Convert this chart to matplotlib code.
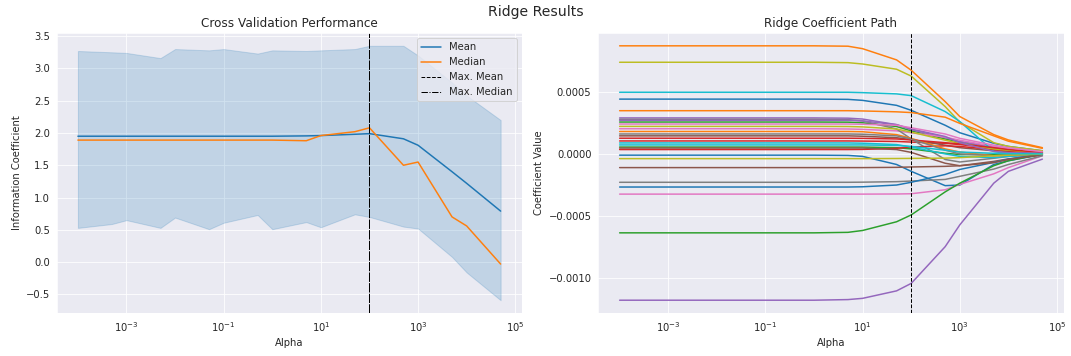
import numpy as np
import matplotlib
matplotlib.use("Agg")
import matplotlib.pyplot as plt
from matplotlib.ticker import MultipleLocator
import seaborn as sns

sns.set_style("darkgrid")

# ---- data ----
alphas = [1e-4, 5e-4, 1e-3, 5e-3, 1e-2, 5e-2, 1e-1, 5e-1, 1, 5, 10, 50, 100, 500, 1000, 5000, 1e4, 5e4]

ic_mean = [1.95, 1.95, 1.95, 1.95, 1.95, 1.95, 1.95, 1.95, 1.95, 1.955, 1.96, 1.98, 1.99, 1.91, 1.81, 1.40, 1.22, 0.79]
ic_median = [1.89, 1.89, 1.89, 1.89, 1.89, 1.89, 1.89, 1.89, 1.89, 1.88, 1.96, 2.02, 2.08, 1.50, 1.55, 0.70, 0.56, -0.03]
band_upper = [3.27, 3.25, 3.24, 3.16, 3.30, 3.28, 3.30, 3.23, 3.28, 3.27, 3.28, 3.30, 3.35, 3.35, 3.20, 2.78, 2.58, 2.20]
band_lower = [0.53, 0.59, 0.65, 0.53, 0.69, 0.51, 0.61, 0.73, 0.51, 0.62, 0.54, 0.74, 0.70, 0.55, 0.52, 0.08, -0.16, -0.59]

best_mean_alpha = 100
best_median_alpha = 100

# Coefficient paths (units of 1e-4): value on the flat part (alpha <= 1),
# then values at alpha = 5, 10, 50, 100, 500, 1000, 5000, 1e4, 5e4
coef_unit = 1e-4
coef_flat = [4.40, 8.68, 2.56, 1.04, 2.89, 1.45, 2.02, 2.78, 7.36, 4.95,
             -0.10, 3.47, 0.55, 0.35, -11.75, -1.10, -3.23, -2.28, 2.21, 0.88,
             -2.66, 1.80, -6.34, 1.26, 2.70, 0.47, 2.40, 1.60, -0.38, 0.72]
coef_tail = [
    [4.38, 4.30, 3.90, 3.50, 2.30, 1.70, 0.85, 0.60, 0.25],
    [8.65, 8.45, 7.55, 6.72, 4.20, 3.00, 1.55, 1.12, 0.50],
    [2.55, 2.50, 2.20, 1.85, 1.20, 0.95, 0.55, 0.40, 0.15],
    [1.04, 1.03, 1.00, 0.95, 0.85, 0.75, 0.45, 0.30, 0.10],
    [2.87, 2.80, 2.35, 1.95, 1.30, 1.00, 0.50, 0.35, 0.15],
    [1.45, 1.42, 1.30, 1.15, 0.70, 0.50, 0.25, 0.20, 0.05],
    [2.00, 1.97, 1.85, 1.70, 1.35, 1.10, 0.60, 0.42, 0.15],
    [2.75, 2.65, 2.00, 1.20, -0.45, -0.65, -0.35, -0.20, -0.05],
    [7.33, 7.22, 6.80, 6.25, 3.80, 2.55, 0.90, 0.60, 0.25],
    [4.95, 4.92, 4.82, 4.68, 3.40, 2.60, 0.20, 0.00, 0.00],
    [-0.12, -0.20, -0.85, -1.40, -2.55, -2.50, -0.85, -0.55, -0.05],
    [3.47, 3.45, 3.38, 3.32, 2.95, 2.45, 1.45, 1.02, 0.45],
    [0.55, 0.55, 0.50, 0.40, 0.05, -0.05, -0.05, -0.03, 0.00],
    [0.35, 0.36, 0.45, 0.55, 0.65, 0.60, 0.35, 0.25, 0.08],
    [-11.70, -11.60, -11.00, -10.40, -7.45, -5.70, -2.35, -1.40, -0.42],
    [-1.10, -1.10, -1.08, -1.05, -1.00, -0.95, -0.60, -0.40, -0.10],
    [-3.23, -3.23, -3.22, -3.20, -2.88, -2.45, -1.60, -1.10, -0.15],
    [-2.28, -2.27, -2.23, -2.18, -2.05, -1.80, -1.22, -0.85, -0.15],
    [2.20, 2.17, 2.00, 1.75, 1.10, 0.85, 0.40, 0.30, 0.10],
    [0.88, 0.86, 0.75, 0.55, 0.00, -0.20, -0.30, -0.20, -0.05],
    [-2.66, -2.64, -2.50, -2.28, -1.65, -1.25, -0.68, -0.42, 0.00],
    [1.80, 1.78, 1.55, 1.25, 0.40, 0.15, -0.15, -0.10, 0.00],
    [-6.30, -6.15, -5.45, -4.90, -3.05, -2.35, -0.95, -0.55, 0.00],
    [1.26, 1.25, 1.20, 1.12, 0.90, 0.80, 0.50, 0.35, 0.10],
    [2.70, 2.65, 2.35, 2.00, 1.40, 0.90, 0.20, 0.10, 0.05],
    [0.47, 0.47, 0.35, 0.12, -0.75, -0.95, -0.70, -0.45, -0.05],
    [2.40, 2.38, 2.30, 2.10, 1.60, 1.25, 0.70, 0.50, 0.18],
    [1.60, 1.58, 1.45, 1.20, 0.30, 0.00, -0.15, -0.10, 0.00],
    [-0.38, -0.38, -0.37, -0.36, -0.34, -0.30, -0.15, -0.10, -0.02],
    [0.72, 0.72, 0.68, 0.60, 0.30, 0.15, 0.05, 0.02, 0.00],
]

# ---- figure ----
DPI = 72
fig, (ax1, ax2) = plt.subplots(1, 2, figsize=(1071 / DPI, 356 / DPI), dpi=DPI)
fig.subplots_adjust(left=0.053, right=0.993, bottom=0.121, top=0.907, wspace=0.165)

ax1.fill_between(alphas, band_lower, band_upper, color="C0", alpha=0.2)
ax1.plot(alphas, ic_mean, color="C0", label="Mean")
ax1.plot(alphas, ic_median, color="C1", label="Median")
ax1.axvline(best_mean_alpha, color="black", ls="--", lw=1, label="Max. Mean")
ax1.axvline(best_median_alpha, color="black", ls="-.", lw=1, label="Max. Median")
ax1.set_xscale("log")
ax1.set_xlabel("Alpha")
ax1.set_ylabel("Information Coefficient")
ax1.set_title("Cross Validation Performance")
ax1.legend(loc="upper right")

n_flat = 9
for flat, tail in zip(coef_flat, coef_tail):
    vals = np.array([flat] * n_flat + tail) * coef_unit
    ax2.plot(alphas, vals)
ax2.axvline(best_mean_alpha, color="black", ls="--", lw=1)
ax2.set_xscale("log")
ax2.yaxis.set_major_locator(MultipleLocator(0.0005))
ax2.set_xlabel("Alpha")
ax2.set_ylabel("Coefficient Value")
ax2.set_title("Ridge Coefficient Path")

fig.suptitle("Ridge Results", fontsize=14, y=0.985)

fig.savefig("out.png", dpi=DPI)
